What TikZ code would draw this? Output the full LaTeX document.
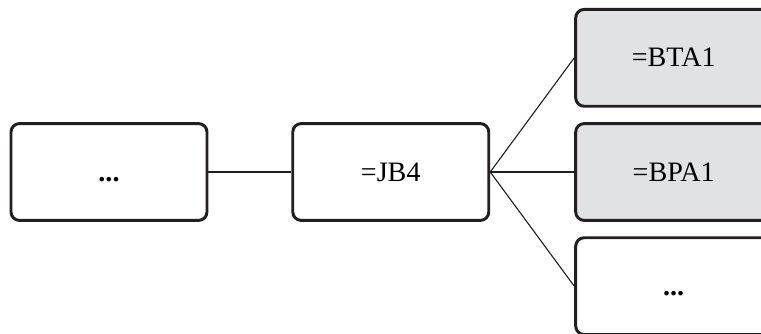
\documentclass[tikz,border=0pt]{standalone}
\usepackage{fontspec}
\setmainfont{Liberation Serif}
\usetikzlibrary{positioning}
\definecolor{boxgray}{RGB}{225, 226, 228}
\definecolor{boxline}{RGB}{35, 31, 32}

\begin{document}
\begin{tikzpicture}[
    box/.style={draw=boxline, line width=2.1pt, rounded corners=6pt,
                minimum width=4.9cm, minimum height=2.42cm,
                text height=13pt, text depth=0pt,
                font=\fontsize{20}{22}\selectfont},
    link/.style={boxline, line width=0.8pt}
]
    \useasboundingbox (0,0) rectangle (19.025,8.35);
    \node[box] (parent) at (2.725,4.05) {\textbf{...}};
    \node[box, right=2.07cm of parent] (jb) {=JB4};
    \node[box, fill=boxgray, right=2.1cm of jb] (bpa) {=BPA1};
    \node[box, fill=boxgray, above=0.36cm of bpa] (bta) {=BTA1};
    \node[box, below=0.36cm of bpa] (more) {\textbf{...}};

    \draw[link] (parent) -- (jb);
    \draw[link] (jb.east) -- (bta.west);
    \draw[link] (jb.east) -- (bpa.west);
    \draw[link] (jb.east) -- (more.west);
\end{tikzpicture}
\end{document}
